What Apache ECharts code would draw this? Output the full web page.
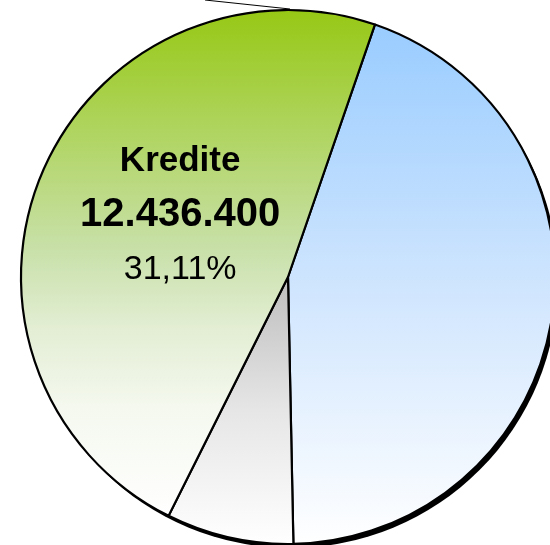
<!DOCTYPE html>
<html>
<head>
<meta charset="utf-8">
<script src="https://cdn.jsdelivr.net/npm/echarts@6/dist/echarts.min.js"></script>
<style>html,body{margin:0;padding:0;background:#fff;}#c{width:550px;height:545px;}</style>
</head>
<body>
<div id="c"></div>
<script>
// slice names, values (share of the circle), colours
var categories = ['Blau', 'Grau', 'Kredite'];
var sliceValues = [44.4, 7.7, 47.9];
var gradientStops = [
  [[0, '#99ccff'], [0.5, '#cfe5fe'], [1, '#ffffff']],
  [[0, '#bdbdbd'], [0.5, '#e6e6e6'], [1, '#ffffff']],
  [[0, '#96c814'], [0.47, '#c8e0a8'], [0.63, '#e3eed4'], [0.78, '#f4f8ee'], [1, '#ffffff']]
];
var shownLabelName = 'Kredite';
var shownLabelAmount = '12.436.400';
var shownLabelPercent = '31,11%';

var chart = echarts.init(document.getElementById('c'), null, {renderer: 'canvas'});

var data = categories.map(function (n, i) {
  return {
    name: n,
    value: sliceValues[i],
    itemStyle: {
      color: {
        type: 'linear', x: 0, y: 0, x2: 0, y2: 1,
        colorStops: gradientStops[i].map(function (s) { return {offset: s[0], color: s[1]}; })
      }
    },
    label: {show: n === shownLabelName}
  };
});

chart.setOption({
  animation: false,
  backgroundColor: '#ffffff',
  series: [
    {
      type: 'pie',
      silent: true,
      z: 1,
      center: [291, 281],
      radius: 267,
      label: {show: false},
      labelLine: {show: false},
      itemStyle: {color: '#000000', borderWidth: 0},
      data: [1]
    },
    {
      type: 'pie',
      z: 2,
      center: [288, 277],
      radius: 267,
      startAngle: 71,
      clockwise: true,
      avoidLabelOverlap: false,
      itemStyle: {borderColor: '#000000', borderWidth: 2.2},
      labelLine: {show: false},
      label: {
        position: 'inside',
        offset: [18, -9],
        formatter: function () {
          return '{n|' + shownLabelName + '}\n{v|' + shownLabelAmount + '}\n{p|' + shownLabelPercent + '}';
        },
        rich: {
          n: {fontFamily: 'Liberation Sans', fontWeight: 'bold', fontSize: 35, color: '#000', lineHeight: 54},
          v: {fontFamily: 'Liberation Sans', fontWeight: 'bold', fontSize: 40, color: '#000', lineHeight: 54},
          p: {fontFamily: 'Liberation Sans', fontWeight: 'normal', fontSize: 34, color: '#000', lineHeight: 54}
        }
      },
      data: data
    }
  ],
  graphic: [
    {
      type: 'line',
      z: 10,
      shape: {x1: 205, y1: 0, x2: 290, y2: 9},
      style: {stroke: '#000', lineWidth: 1}
    }
  ]
});
</script>
</body>
</html>
